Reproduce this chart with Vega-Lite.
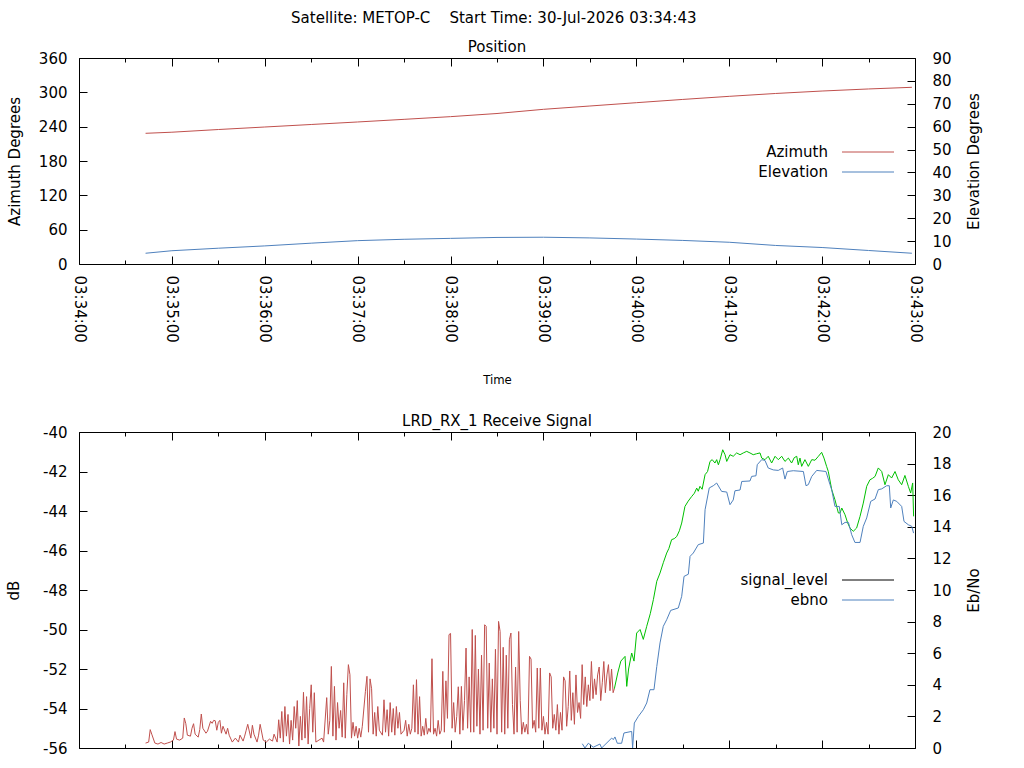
{
  "$schema": "https://vega.github.io/schema/vega-lite/v6.json",
  "padding": {"left": 6, "top": 10, "right": 5, "bottom": 0},
  "title": {"text": "Satellite: METOP-C\u00a0\u00a0\u00a0\u00a0Start Time: 30-Jul-2026 03:34:43", "anchor": "middle", "offset": 14},
  "config": {
    "font": "DejaVu Sans",
    "view": {"stroke": "#000000", "strokeWidth": 1},
    "axis": {
      "domain": false, "grid": false, "tickColor": "#000000", "tickWidth": 1,
      "labelColor": "#000000", "labelFontSize": 15, "labelFont": "DejaVu Sans",
      "titleColor": "#000000", "titleFontSize": 15, "titleFontWeight": "normal", "titleFont": "DejaVu Sans",
      "labelFlush": false, "labelOverlap": false
    },
    "title": {"fontSize": 15, "fontWeight": "normal", "color": "#000000", "font": "DejaVu Sans"},
    "legend": {
      "orient": "none", "title": null, "padding": 0, "offset": 0,
      "symbolType": "M-5.2,0H5.2", "symbolSize": 100, "symbolStrokeWidth": 1,
      "labelAlign": "right", "labelOffset": -47.5, "labelFontSize": 15, "labelFont": "DejaVu Sans",
      "labelColor": "#000000", "rowPadding": 4, "labelLimit": 0
    }
  },
  "datasets": {
    "position": [
      {"t": 43, "az": 228.4, "el": 4.7}, {"t": 60, "az": 230.3, "el": 5.8}, {"t": 90, "az": 235.0, "el": 6.9},
      {"t": 120, "az": 239.4, "el": 7.9}, {"t": 150, "az": 243.8, "el": 9.1}, {"t": 180, "az": 248.2, "el": 10.2},
      {"t": 210, "az": 252.8, "el": 10.8}, {"t": 240, "az": 257.5, "el": 11.2}, {"t": 270, "az": 263.0, "el": 11.6},
      {"t": 300, "az": 270.3, "el": 11.7}, {"t": 330, "az": 276.1, "el": 11.4}, {"t": 360, "az": 281.9, "el": 10.9},
      {"t": 390, "az": 287.6, "el": 10.3}, {"t": 420, "az": 293.0, "el": 9.5}, {"t": 450, "az": 298.0, "el": 8.1},
      {"t": 480, "az": 302.3, "el": 7.2}, {"t": 510, "az": 305.9, "el": 5.9}, {"t": 538, "az": 308.8, "el": 4.7}
    ],
    "signal": [
      {"t": 43, "level": -55.75}, {"t": 45, "level": -55.7}, {"t": 46, "level": -55.07}, {"t": 47, "level": -55.3},
      {"t": 49, "level": -55.75}, {"t": 51, "level": -55.8}, {"t": 53, "level": -55.72}, {"t": 55, "level": -55.8},
      {"t": 57, "level": -55.75}, {"t": 59, "level": -55.7}, {"t": 61, "level": -55.6}, {"t": 62, "level": -55.17},
      {"t": 63, "level": -55.55}, {"t": 65, "level": -55.6}, {"t": 67, "level": -55.5}, {"t": 68, "level": -54.48},
      {"t": 69, "level": -54.77}, {"t": 70, "level": -55.35}, {"t": 72, "level": -55.4}, {"t": 73, "level": -55.0},
      {"t": 74, "level": -54.77}, {"t": 75, "level": -55.3}, {"t": 77, "level": -55.45}, {"t": 78, "level": -55.07},
      {"t": 79, "level": -54.28}, {"t": 80, "level": -55.0}, {"t": 82, "level": -55.25}, {"t": 83, "level": -55.15},
      {"t": 85, "level": -54.65}, {"t": 86, "level": -54.75}, {"t": 87, "level": -54.6}, {"t": 88, "level": -54.62},
      {"t": 89, "level": -55.1}, {"t": 90, "level": -54.7}, {"t": 91, "level": -54.6}, {"t": 92, "level": -55.25},
      {"t": 93, "level": -54.9}, {"t": 95, "level": -55.3}, {"t": 96, "level": -55.0}, {"t": 97, "level": -55.35},
      {"t": 99, "level": -55.7}, {"t": 101, "level": -55.5}, {"t": 103, "level": -55.7}, {"t": 104, "level": -55.35},
      {"t": 106, "level": -55.65}, {"t": 107, "level": -55.4}, {"t": 108, "level": -55.1}, {"t": 109, "level": -54.8},
      {"t": 111, "level": -55.5}, {"t": 112, "level": -54.85}, {"t": 113, "level": -55.3}, {"t": 115, "level": -55.7},
      {"t": 116, "level": -55.35}, {"t": 117, "level": -54.8}, {"t": 119, "level": -55.6}, {"t": 121, "level": -55.7},
      {"t": 123, "level": -55.55}, {"t": 125, "level": -55.65}, {"t": 126, "level": -55.3}, {"t": 128, "level": -55.7},
      {"t": 129, "level": -54.57}, {"t": 130, "level": -55.5}, {"t": 131, "level": -54.15}, {"t": 132, "level": -55.7},
      {"t": 133, "level": -53.9}, {"t": 134, "level": -55.4}, {"t": 135, "level": -54.3}, {"t": 136, "level": -55.8},
      {"t": 137, "level": -54.6}, {"t": 138, "level": -55.6}, {"t": 139, "level": -53.9}, {"t": 140, "level": -55.0},
      {"t": 141, "level": -53.6}, {"t": 142, "level": -55.9}, {"t": 143, "level": -54.4}, {"t": 144, "level": -55.6},
      {"t": 145, "level": -53.18}, {"t": 146, "level": -55.5}, {"t": 147, "level": -53.4}, {"t": 148, "level": -55.8},
      {"t": 149, "level": -54.0}, {"t": 150, "level": -52.8}, {"t": 151, "level": -55.2}, {"t": 152, "level": -53.2},
      {"t": 153, "level": -55.7}, {"t": 155, "level": -55.6}, {"t": 157, "level": -55.5}, {"t": 158, "level": -55.7},
      {"t": 160, "level": -53.45}, {"t": 161, "level": -55.3}, {"t": 162, "level": -54.6}, {"t": 163, "level": -51.87},
      {"t": 164, "level": -55.4}, {"t": 165, "level": -52.88}, {"t": 166, "level": -55.6}, {"t": 167, "level": -53.7},
      {"t": 168, "level": -55.0}, {"t": 169, "level": -54.1}, {"t": 170, "level": -55.45}, {"t": 171, "level": -52.7},
      {"t": 172, "level": -55.5}, {"t": 173, "level": -53.3}, {"t": 174, "level": -51.78}, {"t": 175, "level": -52.29},
      {"t": 176, "level": -55.5}, {"t": 177, "level": -54.7}, {"t": 178, "level": -55.4}, {"t": 179, "level": -54.9},
      {"t": 180, "level": -55.5}, {"t": 181, "level": -55.0}, {"t": 182, "level": -55.45}, {"t": 183, "level": -54.9},
      {"t": 185, "level": -53.13}, {"t": 186, "level": -52.37}, {"t": 187, "level": -55.2}, {"t": 188, "level": -52.5},
      {"t": 189, "level": -53.0}, {"t": 190, "level": -55.3}, {"t": 191, "level": -54.2}, {"t": 192, "level": -55.4},
      {"t": 193, "level": -53.9}, {"t": 194, "level": -55.1}, {"t": 196, "level": -55.35}, {"t": 197, "level": -53.56},
      {"t": 198, "level": -55.2}, {"t": 199, "level": -54.06}, {"t": 200, "level": -55.4}, {"t": 201, "level": -53.7},
      {"t": 202, "level": -55.2}, {"t": 203, "level": -54.0}, {"t": 204, "level": -55.35}, {"t": 205, "level": -53.9},
      {"t": 206, "level": -55.0}, {"t": 207, "level": -54.2}, {"t": 208, "level": -55.3}, {"t": 210, "level": -55.1},
      {"t": 211, "level": -54.6}, {"t": 212, "level": -55.4}, {"t": 213, "level": -54.8}, {"t": 214, "level": -55.3},
      {"t": 215, "level": -55.0}, {"t": 216, "level": -52.8}, {"t": 217, "level": -55.2}, {"t": 218, "level": -52.54},
      {"t": 219, "level": -55.3}, {"t": 220, "level": -53.4}, {"t": 221, "level": -55.4}, {"t": 222, "level": -54.9},
      {"t": 223, "level": -55.35}, {"t": 224, "level": -54.5}, {"t": 225, "level": -55.3}, {"t": 226, "level": -55.0},
      {"t": 227, "level": -55.2}, {"t": 228, "level": -51.48}, {"t": 229, "level": -55.3}, {"t": 230, "level": -55.0},
      {"t": 231, "level": -55.4}, {"t": 232, "level": -54.6}, {"t": 233, "level": -55.3}, {"t": 234, "level": -55.1},
      {"t": 235, "level": -52.12}, {"t": 236, "level": -55.2}, {"t": 237, "level": -52.6}, {"t": 238, "level": -54.5},
      {"t": 239, "level": -50.26}, {"t": 240, "level": -50.2}, {"t": 241, "level": -55.0}, {"t": 242, "level": -53.7},
      {"t": 243, "level": -55.2}, {"t": 244, "level": -54.4}, {"t": 245, "level": -52.9}, {"t": 246, "level": -55.3},
      {"t": 247, "level": -52.88}, {"t": 248, "level": -55.1}, {"t": 249, "level": -53.6}, {"t": 250, "level": -50.94},
      {"t": 251, "level": -55.0}, {"t": 252, "level": -52.4}, {"t": 253, "level": -55.2}, {"t": 254, "level": -50.0},
      {"t": 255, "level": -55.2}, {"t": 256, "level": -50.3}, {"t": 257, "level": -54.9}, {"t": 258, "level": -52.0},
      {"t": 259, "level": -55.3}, {"t": 260, "level": -51.3}, {"t": 261, "level": -55.1}, {"t": 262, "level": -49.76},
      {"t": 263, "level": -49.84}, {"t": 264, "level": -55.0}, {"t": 265, "level": -51.7}, {"t": 266, "level": -55.2},
      {"t": 267, "level": -52.5}, {"t": 268, "level": -55.0}, {"t": 269, "level": -51.0}, {"t": 270, "level": -55.3},
      {"t": 271, "level": -49.59}, {"t": 272, "level": -50.1}, {"t": 273, "level": -55.2}, {"t": 274, "level": -50.9},
      {"t": 275, "level": -55.3}, {"t": 276, "level": -51.3}, {"t": 277, "level": -55.0}, {"t": 278, "level": -50.52},
      {"t": 279, "level": -50.18}, {"t": 280, "level": -53.8}, {"t": 281, "level": -55.3}, {"t": 282, "level": -51.9},
      {"t": 283, "level": -55.2}, {"t": 284, "level": -50.1}, {"t": 285, "level": -53.6}, {"t": 286, "level": -55.3},
      {"t": 287, "level": -54.7}, {"t": 288, "level": -55.2}, {"t": 289, "level": -54.8}, {"t": 290, "level": -55.3},
      {"t": 291, "level": -51.36}, {"t": 292, "level": -51.5}, {"t": 293, "level": -55.0}, {"t": 294, "level": -54.6},
      {"t": 295, "level": -55.2}, {"t": 296, "level": -51.95}, {"t": 297, "level": -55.0}, {"t": 298, "level": -51.95},
      {"t": 299, "level": -55.1}, {"t": 300, "level": -54.4}, {"t": 301, "level": -55.3}, {"t": 302, "level": -54.7},
      {"t": 303, "level": -55.3}, {"t": 304, "level": -52.2}, {"t": 305, "level": -52.4}, {"t": 306, "level": -55.0},
      {"t": 307, "level": -54.3}, {"t": 308, "level": -55.1}, {"t": 309, "level": -53.8}, {"t": 310, "level": -55.3},
      {"t": 311, "level": -54.2}, {"t": 312, "level": -55.1}, {"t": 313, "level": -52.4}, {"t": 314, "level": -52.6},
      {"t": 315, "level": -54.9}, {"t": 316, "level": -53.9}, {"t": 317, "level": -52.1}, {"t": 318, "level": -54.6},
      {"t": 319, "level": -53.2}, {"t": 320, "level": -54.8}, {"t": 321, "level": -52.3}, {"t": 322, "level": -54.2},
      {"t": 323, "level": -53.7}, {"t": 324, "level": -54.5}, {"t": 325, "level": -51.78}, {"t": 326, "level": -53.8},
      {"t": 327, "level": -52.4}, {"t": 328, "level": -53.9}, {"t": 329, "level": -52.8}, {"t": 330, "level": -53.6},
      {"t": 331, "level": -51.62}, {"t": 332, "level": -53.5}, {"t": 333, "level": -52.5}, {"t": 334, "level": -53.3},
      {"t": 335, "level": -52.3}, {"t": 336, "level": -51.9}, {"t": 337, "level": -53.6}, {"t": 338, "level": -52.7},
      {"t": 339, "level": -51.62}, {"t": 340, "level": -53.2}, {"t": 341, "level": -52.3}, {"t": 342, "level": -51.78},
      {"t": 343, "level": -53.1}, {"t": 344, "level": -52.0}, {"t": 345, "level": -53.2}, {"t": 345.8, "level": -53.0},
      {"t": 348, "level": -52.2}, {"t": 350, "level": -51.6}, {"t": 352.7, "level": -51.36}, {"t": 353.8, "level": -52.88},
      {"t": 355, "level": -52.0}, {"t": 357, "level": -51.19}, {"t": 358.5, "level": -51.6}, {"t": 360.2, "level": -50.18},
      {"t": 362.4, "level": -50.0}, {"t": 364.5, "level": -50.5}, {"t": 366.7, "level": -49.84}, {"t": 369, "level": -49.2},
      {"t": 371, "level": -48.49}, {"t": 373.2, "level": -47.56}, {"t": 375.3, "level": -47.14}, {"t": 377.5, "level": -46.6},
      {"t": 379.6, "level": -46.13}, {"t": 381, "level": -45.9}, {"t": 382.8, "level": -45.45}, {"t": 384.5, "level": -45.4},
      {"t": 386.1, "level": -45.29}, {"t": 387.8, "level": -45.0}, {"t": 389.3, "level": -44.61}, {"t": 391.4, "level": -43.77},
      {"t": 393.5, "level": -43.5}, {"t": 395.8, "level": -43.26}, {"t": 397.5, "level": -43.1}, {"t": 399, "level": -42.84},
      {"t": 400, "level": -43.0}, {"t": 401.1, "level": -42.75}, {"t": 402.5, "level": -42.9}, {"t": 404.4, "level": -42.16},
      {"t": 406, "level": -42.0}, {"t": 407.6, "level": -41.49}, {"t": 409, "level": -41.4}, {"t": 410.8, "level": -41.57},
      {"t": 411.9, "level": -41.4}, {"t": 413, "level": -41.66}, {"t": 414.1, "level": -41.4}, {"t": 415.8, "level": -40.9},
      {"t": 417.3, "level": -41.15}, {"t": 418.4, "level": -41.49}, {"t": 420.5, "level": -41.15}, {"t": 422.6, "level": -41.23},
      {"t": 424.8, "level": -41.06}, {"t": 427, "level": -41.15}, {"t": 429.1, "level": -41.06}, {"t": 431.3, "level": -40.98},
      {"t": 433.4, "level": -41.06}, {"t": 435.5, "level": -41.15}, {"t": 437.7, "level": -41.1}, {"t": 439.9, "level": -41.06},
      {"t": 441, "level": -41.32}, {"t": 443.1, "level": -41.4}, {"t": 445.2, "level": -41.23}, {"t": 447.4, "level": -41.57},
      {"t": 449.6, "level": -41.23}, {"t": 451.7, "level": -41.4}, {"t": 453.9, "level": -41.23}, {"t": 456, "level": -41.49},
      {"t": 458.2, "level": -41.32}, {"t": 460.3, "level": -41.57}, {"t": 462, "level": -41.3}, {"t": 463.6, "level": -41.23},
      {"t": 464.6, "level": -41.66}, {"t": 465.7, "level": -41.32}, {"t": 466.8, "level": -41.74}, {"t": 468.9, "level": -41.4},
      {"t": 471.1, "level": -41.74}, {"t": 473.3, "level": -41.4}, {"t": 475.4, "level": -41.43}, {"t": 477.6, "level": -41.23},
      {"t": 479.7, "level": -41.03}, {"t": 481.2, "level": -41.32}, {"t": 482.9, "level": -41.74}, {"t": 484, "level": -42.0},
      {"t": 486.2, "level": -42.92}, {"t": 488.3, "level": -43.43}, {"t": 490.5, "level": -44.1}, {"t": 491.6, "level": -44.1},
      {"t": 492.7, "level": -43.85}, {"t": 494.8, "level": -44.19}, {"t": 496.5, "level": -44.6}, {"t": 498, "level": -44.86},
      {"t": 500.1, "level": -45.03}, {"t": 502.3, "level": -44.86}, {"t": 504.5, "level": -44.27}, {"t": 506.6, "level": -43.6},
      {"t": 508.8, "level": -42.75}, {"t": 510.9, "level": -42.42}, {"t": 512.5, "level": -42.35}, {"t": 514.2, "level": -42.25},
      {"t": 516.3, "level": -41.82}, {"t": 518.5, "level": -42.0}, {"t": 520.6, "level": -42.67}, {"t": 522.8, "level": -42.16},
      {"t": 524.9, "level": -42.33}, {"t": 527.1, "level": -42.0}, {"t": 529.2, "level": -42.42}, {"t": 531.4, "level": -42.67},
      {"t": 533.5, "level": -42.2}, {"t": 535.7, "level": -42.75}, {"t": 537.2, "level": -43.09}, {"t": 538.5, "level": -42.58},
      {"t": 539.1, "level": -44.27}
    ],
    "ebno": [
      {"t": 325.1, "ebno": 0.27}, {"t": 326.8, "ebno": 0.0}, {"t": 329.0, "ebno": 0.3}, {"t": 332.2, "ebno": 0.05},
      {"t": 336.5, "ebno": 0.25}, {"t": 337.6, "ebno": 0.0}, {"t": 344.1, "ebno": 0.63}, {"t": 345.1, "ebno": 0.53},
      {"t": 346.2, "ebno": 0.7}, {"t": 347.7, "ebno": 0.3}, {"t": 350.5, "ebno": 0.3}, {"t": 352.0, "ebno": 0.95},
      {"t": 357.0, "ebno": 1.05}, {"t": 357.6, "ebno": 0.0}, {"t": 358.7, "ebno": 1.58}, {"t": 361.3, "ebno": 2.0},
      {"t": 364.5, "ebno": 2.42}, {"t": 366.7, "ebno": 2.85}, {"t": 368.8, "ebno": 3.69}, {"t": 371.4, "ebno": 3.69},
      {"t": 373.2, "ebno": 5.16}, {"t": 375.3, "ebno": 6.65}, {"t": 377.4, "ebno": 7.7}, {"t": 379.6, "ebno": 8.12},
      {"t": 382.2, "ebno": 8.71}, {"t": 387.1, "ebno": 8.86}, {"t": 389.3, "ebno": 9.6}, {"t": 390.8, "ebno": 10.86},
      {"t": 393.6, "ebno": 11.0}, {"t": 394.7, "ebno": 12.13}, {"t": 396.8, "ebno": 12.34}, {"t": 400.0, "ebno": 12.87},
      {"t": 403.3, "ebno": 12.97}, {"t": 404.4, "ebno": 15.08}, {"t": 407.1, "ebno": 16.46}, {"t": 409.7, "ebno": 16.6},
      {"t": 411.9, "ebno": 16.77}, {"t": 415.1, "ebno": 16.24}, {"t": 418.4, "ebno": 16.2}, {"t": 420.5, "ebno": 15.4},
      {"t": 422.6, "ebno": 15.7}, {"t": 423.7, "ebno": 16.28}, {"t": 427.0, "ebno": 16.33}, {"t": 428.1, "ebno": 16.87},
      {"t": 433.4, "ebno": 16.9}, {"t": 434.5, "ebno": 17.19}, {"t": 437.3, "ebno": 17.23}, {"t": 438.1, "ebno": 17.93},
      {"t": 441.0, "ebno": 18.25}, {"t": 443.1, "ebno": 18.2}, {"t": 445.2, "ebno": 17.72}, {"t": 448.5, "ebno": 17.6},
      {"t": 451.7, "ebno": 17.57}, {"t": 454.5, "ebno": 17.72}, {"t": 456.0, "ebno": 17.02}, {"t": 457.5, "ebno": 17.5},
      {"t": 461.4, "ebno": 17.55}, {"t": 467.9, "ebno": 17.5}, {"t": 469.6, "ebno": 16.6}, {"t": 471.1, "ebno": 16.67},
      {"t": 473.3, "ebno": 17.19}, {"t": 476.5, "ebno": 17.57}, {"t": 482.5, "ebno": 17.5}, {"t": 485.1, "ebno": 16.67},
      {"t": 486.2, "ebno": 16.35}, {"t": 488.3, "ebno": 15.29}, {"t": 491.1, "ebno": 15.29}, {"t": 492.7, "ebno": 14.13},
      {"t": 494.8, "ebno": 14.28}, {"t": 497.0, "ebno": 14.28}, {"t": 499.1, "ebno": 13.5}, {"t": 501.2, "ebno": 13.01},
      {"t": 504.5, "ebno": 13.01}, {"t": 506.6, "ebno": 14.03}, {"t": 508.8, "ebno": 14.56}, {"t": 511.4, "ebno": 15.61},
      {"t": 514.2, "ebno": 15.76}, {"t": 516.3, "ebno": 16.35}, {"t": 518.5, "ebno": 16.4}, {"t": 521.7, "ebno": 16.6},
      {"t": 523.4, "ebno": 16.6}, {"t": 524.3, "ebno": 15.19}, {"t": 526.0, "ebno": 15.7}, {"t": 528.2, "ebno": 15.61},
      {"t": 531.4, "ebno": 15.29}, {"t": 532.9, "ebno": 14.34}, {"t": 535.7, "ebno": 14.13}, {"t": 537.9, "ebno": 14.03},
      {"t": 539.1, "ebno": 13.6}
    ]
  },
  "spacing": 26,
  "resolve": {"scale": {"color": "independent"}},
  "vconcat": [
    {
      "title": {"text": "Position", "frame": "group", "offset": -4},
      "width": 836,
      "height": 206,
      "data": {"name": "position"},
      "layer": [
        {
          "mark": {"type": "line", "strokeWidth": 1, "clip": true},
          "encoding": {
            "x": {
              "field": "t", "type": "quantitative",
              "scale": {"domain": [0, 540], "nice": false, "zero": false},
              "axis": {
                "values": [0, 30, 60, 90, 120, 150, 180, 210, 240, 270, 300, 330, 360, 390, 420, 450, 480, 510, 540],
                "labelExpr": "datum.value % 60 === 0 ? '03:' + (34 + datum.value / 60) + ':00' : ''",
                "labelAngle": 90, "labelAlign": "left", "labelBaseline": "middle",
                "labelPadding": 19,
                "tickSize": {"condition": {"test": "datum.value % 60 === 0", "value": -8}, "value": -4},
                "title": "Time", "titleFont": "Liberation Sans Narrow, DejaVu Sans Condensed, DejaVu Sans", "titleFontSize": 13, "titlePadding": 31
              }
            },
            "y": {
              "field": "az", "type": "quantitative",
              "scale": {"domain": [0, 360], "nice": false},
              "axis": {"values": [0, 60, 120, 180, 240, 300, 360], "tickSize": -8, "labelPadding": 20, "title": "Azimuth Degrees", "titlePadding": 16}
            },
            "color": {
              "datum": "Azimuth", "type": "nominal",
              "scale": {"domain": ["Azimuth", "Elevation"], "range": ["#c0504d", "#4f81bd"]},
              "legend": {"legendX": 781.5, "legendY": 86.5}
            }
          }
        },
        {
          "mark": {"type": "line", "strokeWidth": 1, "clip": true},
          "encoding": {
            "x": {
              "field": "t", "type": "quantitative",
              "axis": {
                "orient": "top", "labels": false, "title": null, "minExtent": 0, "maxExtent": 0,
                "values": [0, 30, 60, 90, 120, 150, 180, 210, 240, 270, 300, 330, 360, 390, 420, 450, 480, 510, 540],
                "tickSize": {"condition": {"test": "datum.value % 60 === 0", "value": -8}, "value": -4}
              }
            },
            "y": {
              "field": "el", "type": "quantitative",
              "scale": {"domain": [0, 90], "nice": false},
              "axis": {"orient": "right", "values": [0, 10, 20, 30, 40, 50, 60, 70, 80, 90], "tickSize": -8, "labelPadding": 25, "title": "Elevation Degrees", "titleAngle": 270, "titleBaseline": "top", "titlePadding": 15}
            },
            "color": {"datum": "Elevation", "type": "nominal"}
          }
        }
      ],
      "resolve": {"scale": {"y": "independent"}, "axis": {"x": "independent"}}
    },
    {
      "title": {"text": "LRD_RX_1 Receive Signal", "frame": "group", "offset": -4},
      "width": 836,
      "height": 316,
      "layer": [
        {
          "data": {"name": "signal"},
          "encoding": {
            "x": {
              "field": "t", "type": "quantitative",
              "scale": {"domain": [0, 540], "nice": false, "zero": false},
              "axis": {
                "values": [0, 30, 60, 90, 120, 150, 180, 210, 240, 270, 300, 330, 360, 390, 420, 450, 480, 510, 540],
                "labels": false, "title": null,
                "tickSize": {"condition": {"test": "datum.value % 60 === 0", "value": -8}, "value": -4}
              }
            },
            "y": {
              "field": "level", "type": "quantitative",
              "scale": {"domain": [-56, -40], "nice": false, "zero": false},
              "axis": {"values": [-56, -54, -52, -50, -48, -46, -44, -42, -40], "labelExpr": "datum.value + ''", "tickSize": -8, "labelPadding": 20, "title": "dB", "titlePadding": 21}
            }
          },
          "layer": [
            {
              "transform": [{"filter": "datum.t <= 345.8"}],
              "mark": {"type": "line", "strokeWidth": 1, "color": "#c0504d", "clip": true}
            },
            {
              "transform": [{"filter": "datum.t >= 345.8"}],
              "mark": {"type": "line", "strokeWidth": 1, "color": "#00c000", "clip": true}
            }
          ]
        },
        {
          "data": {"name": "ebno"},
          "mark": {"type": "line", "strokeWidth": 1, "clip": true},
          "encoding": {
            "x": {
              "field": "t", "type": "quantitative",
              "axis": {
                "orient": "top", "labels": false, "title": null, "minExtent": 0, "maxExtent": 0,
                "values": [0, 30, 60, 90, 120, 150, 180, 210, 240, 270, 300, 330, 360, 390, 420, 450, 480, 510, 540],
                "tickSize": {"condition": {"test": "datum.value % 60 === 0", "value": -8}, "value": -4}
              }
            },
            "y": {
              "field": "ebno", "type": "quantitative",
              "scale": {"domain": [0, 20], "nice": false},
              "axis": {"orient": "right", "values": [0, 2, 4, 6, 8, 10, 12, 14, 16, 18, 20], "tickSize": -8, "labelPadding": 25, "title": "Eb/No", "titleAngle": 270, "titleBaseline": "top", "titlePadding": 15}
            },
            "color": {
              "datum": "ebno", "type": "nominal",
              "scale": {"domain": ["signal_level", "ebno"], "range": ["#000000", "#4f81bd"]},
              "legend": {"legendX": 781.5, "legendY": 140.5}
            }
          }
        }
      ],
      "resolve": {"scale": {"y": "independent"}, "axis": {"x": "independent"}}
    }
  ]
}
